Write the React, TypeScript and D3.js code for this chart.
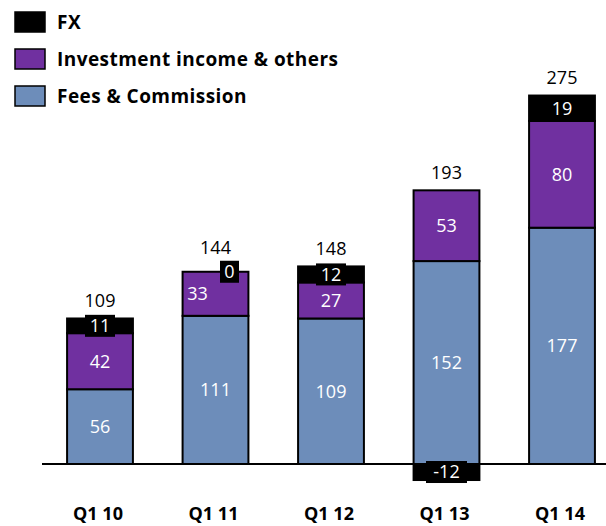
import React from 'react';
import { scaleBand, scaleLinear } from 'd3';

const categories = ['Q1 10', 'Q1 11', 'Q1 12', 'Q1 13', 'Q1 14'];
const fees = [56, 111, 109, 152, 177];
const investment = [42, 33, 27, 53, 80];
const fx = [11, 0, 12, -12, 19];
const totals = [109, 144, 148, 193, 275];

const legendItems = [
  { name: 'FX', color: '#000000' },
  { name: 'Investment income & others', color: '#7030A0' },
  { name: 'Fees & Commission', color: '#6D8DBA' },
];

const FEES_COLOR = '#6D8DBA';
const INV_COLOR = '#7030A0';
const FONT = "'Open Sans', 'Noto Sans', sans-serif";

const width = 606;
const height = 526;
const baseline = 464;

const App = () => {
  const x = scaleBand<string>()
    .domain(categories)
    .range([42.25, 619.75])
    .paddingInner(0.43)
    .paddingOuter(0.215);

  const y = scaleLinear().domain([0, 100]).range([baseline, baseline - 133.5]);
  const bw = x.bandwidth();

  return (
    <svg width={width} height={height} style={{ position: 'absolute', left: 0, top: 0 }}>
      {/* legend */}
      {legendItems.map((d, i) => (
        <g key={d.name} transform={`translate(15,${12 + i * 37})`}>
          <rect width={30} height={20} fill={d.color} stroke="#000" strokeWidth={1.5} />
          <text x={42} y={10} dy="0.36em" fontFamily={FONT} fontWeight="bold" fontSize={19} letterSpacing={0.45} fill="#000">
            {d.name}
          </text>
        </g>
      ))}

      {categories.map((c, i) => {
        const x0 = x(c)!;
        const cx = x0 + bw / 2;
        const feesTop = y(fees[i]);
        const invTop = y(fees[i] + investment[i]);
        const fxPos = fx[i] >= 0;
        const fxY0 = fxPos ? y(fees[i] + investment[i] + fx[i]) : y(0);
        const fxY1 = fxPos ? invTop : y(fx[i]);
        const fxMid = (fxY0 + fxY1) / 2;
        const barTop = Math.min(fxY0, invTop);
        // small nudges where the FX tag would hide the investment label
        const fxDx = fx[i] === 0 ? 14 : 0;
        const invDx = fx[i] === 0 ? -18 : 0;
        const fxText = String(fx[i]);
        const boxW = fxText.length * 11 + 8;
        const boxH = 22;
        const boxTop = fxMid - boxH / 2;
        const totalY = fxPos ? Math.min(barTop - 18, boxTop - 13) : barTop - 18;
        return (
          <g key={c}>
            <rect x={x0} y={feesTop} width={bw} height={y(0) - feesTop} fill={FEES_COLOR} stroke="#000" strokeWidth={2} />
            <rect x={x0} y={invTop} width={bw} height={feesTop - invTop} fill={INV_COLOR} stroke="#000" strokeWidth={2} />
            {fx[i] !== 0 && (
              <rect x={x0} y={fxY0} width={bw} height={fxY1 - fxY0} fill="#000" stroke="#000" strokeWidth={2} />
            )}
            <text x={cx} y={(y(0) + feesTop) / 2} dy="0.36em" textAnchor="middle" fontFamily={FONT} fontSize={18} fill="#fff">
              {fees[i]}
            </text>
            <text x={cx + invDx} y={(feesTop + invTop) / 2} dy="0.36em" textAnchor="middle" fontFamily={FONT} fontSize={18} fill="#fff">
              {investment[i]}
            </text>
            <rect x={cx + fxDx - boxW / 2} y={boxTop} width={boxW} height={boxH} fill="#000" />
            <text x={cx + fxDx} y={fxMid} dy="0.36em" textAnchor="middle" fontFamily={FONT} fontSize={18} fill="#fff">
              {fxText}
            </text>
            <text x={cx} y={totalY} dy="0.36em" textAnchor="middle" fontFamily={FONT} fontSize={18} fill="#000">
              {totals[i]}
            </text>
            <text x={cx - 2} y={520} textAnchor="middle" fontFamily={FONT} fontWeight="bold" fontSize={18} fill="#000">
              {c}
            </text>
          </g>
        );
      })}

      <line x1={42} x2={606} y1={baseline} y2={baseline} stroke="#000" strokeWidth={2} />
    </svg>
  );
};

export default App;
